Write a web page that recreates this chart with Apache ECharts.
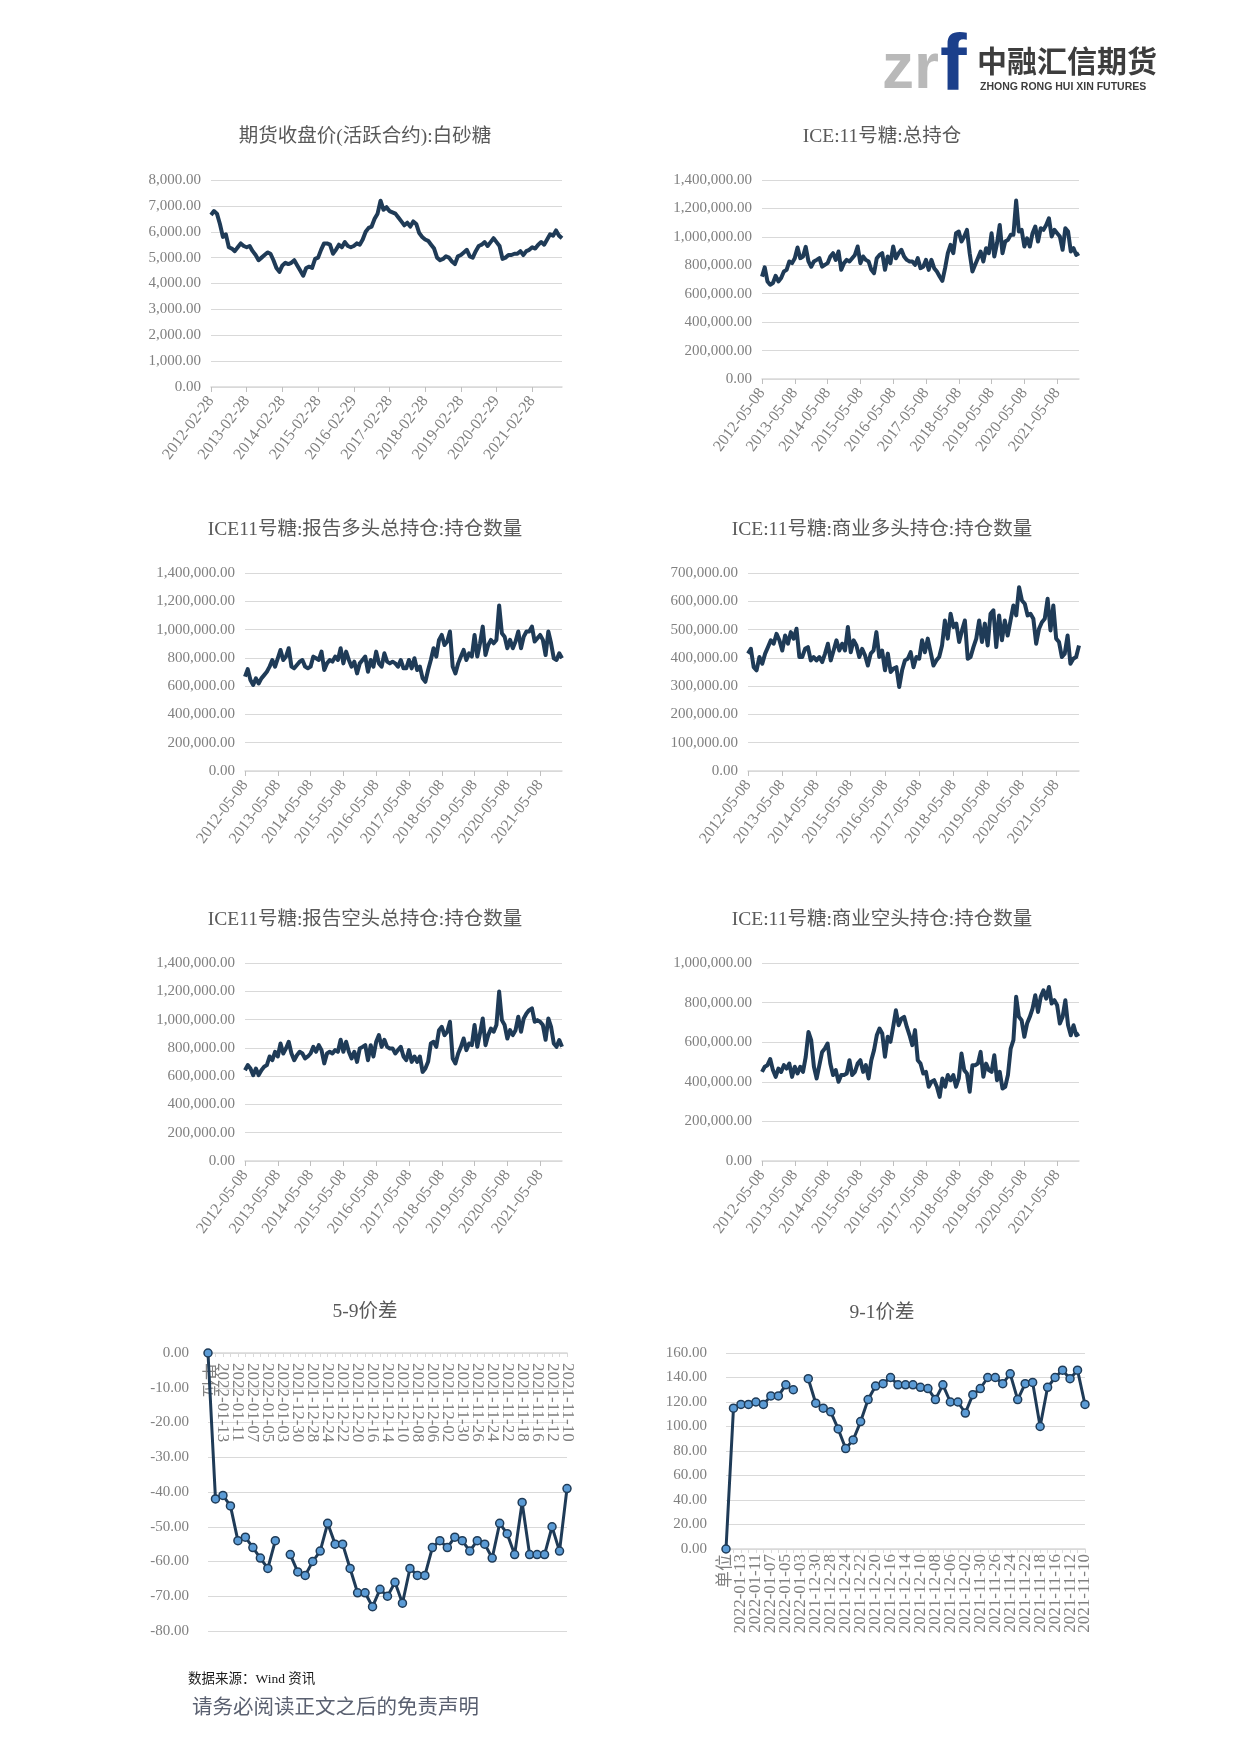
<!DOCTYPE html>
<html>
<head>
<meta charset="utf-8">
<script src="https://cdn.jsdelivr.net/npm/echarts@6/dist/echarts.min.js"></script>
<style>
html,body{margin:0;padding:0;background:#ffffff;}
#page{width:1241px;height:1755px;}
</style>
</head>
<body>
<div id="page"></div>
<script>
// ---------------- DATA ----------------
// Chart 1: 期货收盘价(活跃合约):白砂糖 — monthly, 2012-02 .. 2021-12
const priceTickLabels = ['2012-02-28','2013-02-28','2014-02-28','2015-02-28','2016-02-29','2017-02-28','2018-02-28','2019-02-28','2020-02-29','2021-02-28'];
const sugarClose = [
  6650,6800,6700,6300,5800,5900,5400,5350,5250,5400,5550,5450,
  5400,5450,5250,5100,4900,5000,5100,5200,5150,4900,4600,4450,
  4700,4800,4750,4800,4900,4700,4500,4300,4600,4650,4600,4950,
  5000,5300,5550,5550,5500,5150,5300,5500,5400,5600,5450,5400,
  5450,5550,5500,5700,6000,6150,6200,6500,6700,7200,6850,6950,
  6800,6750,6700,6550,6400,6250,6350,6200,6400,6300,5950,5800,
  5700,5650,5500,5350,5000,4900,4950,5050,5000,4850,4750,5050,
  5100,5200,5300,5050,5000,5250,5450,5500,5600,5450,5600,5750,
  5600,5450,4950,5000,5100,5100,5150,5150,5250,5100,5250,5300,
  5400,5350,5500,5600,5500,5700,5900,5850,6050,5850,5750
];

// ICE charts — monthly, 2012-05 .. 2022-01
const iceTickLabels = ['2012-05-08','2013-05-08','2014-05-08','2015-05-08','2016-05-08','2017-05-08','2018-05-08','2019-05-08','2020-05-08','2021-05-08'];
const iceTotalOI = [
  720e3,785e3,686e3,663e3,675e3,726e3,686e3,710e3,756e3,768e3,827e3,815e3,
  850e3,925e3,850e3,862e3,930e3,827e3,790e3,827e3,838e3,850e3,790e3,803e3,
  815e3,862e3,885e3,838e3,897e3,768e3,815e3,838e3,827e3,850e3,873e3,932e3,
  815e3,862e3,838e3,827e3,768e3,745e3,850e3,873e3,885e3,768e3,862e3,815e3,
  932e3,850e3,885e3,909e3,862e3,838e3,827e3,827e3,803e3,850e3,780e3,790e3,
  838e3,768e3,838e3,780e3,756e3,721e3,690e3,780e3,885e3,944e3,885e3,1026e3,
  1037e3,967e3,1002e3,1049e3,885e3,756e3,803e3,850e3,897e3,827e3,920e3,885e3,
  1026e3,862e3,955e3,1084e3,885e3,967e3,979e3,1014e3,1014e3,1255e3,1037e3,1049e3,
  932e3,990e3,932e3,1026e3,1073e3,967e3,1061e3,1049e3,1084e3,1131e3,1002e3,1049e3,
  1026e3,1002e3,909e3,1061e3,1037e3,897e3,920e3,873e3,885e3
];
const iceReportLong = [
  667e3,720e3,643e3,608e3,655e3,619e3,655e3,678e3,702e3,738e3,785e3,738e3,
  797e3,856e3,785e3,809e3,868e3,738e3,726e3,749e3,773e3,785e3,738e3,726e3,
  738e3,809e3,797e3,785e3,844e3,714e3,761e3,785e3,773e3,809e3,785e3,868e3,
  761e3,844e3,785e3,738e3,773e3,690e3,761e3,785e3,809e3,702e3,785e3,738e3,
  844e3,761e3,738e3,832e3,773e3,761e3,773e3,761e3,738e3,785e3,726e3,726e3,
  785e3,726e3,797e3,714e3,738e3,655e3,631e3,714e3,785e3,868e3,809e3,927e3,
  962e3,891e3,915e3,986e3,738e3,690e3,761e3,809e3,856e3,785e3,832e3,809e3,
  962e3,809e3,903e3,1021e3,820e3,891e3,927e3,903e3,927e3,1170e3,974e3,950e3,
  868e3,927e3,868e3,915e3,986e3,868e3,950e3,986e3,986e3,1021e3,915e3,939e3,
  962e3,927e3,820e3,986e3,903e3,797e3,785e3,832e3,797e3
];
const iceCommLong = [
  415e3,432e3,367e3,356e3,403e3,379e3,415e3,438e3,462e3,450e3,485e3,462e3,
  426e3,479e3,450e3,491e3,468e3,503e3,403e3,403e3,432e3,438e3,391e3,403e3,
  391e3,403e3,385e3,415e3,450e3,391e3,426e3,462e3,426e3,450e3,426e3,509e3,
  420e3,462e3,444e3,403e3,432e3,409e3,373e3,415e3,426e3,491e3,403e3,426e3,
  356e3,415e3,350e3,362e3,367e3,297e3,356e3,391e3,397e3,420e3,367e3,403e3,
  397e3,462e3,420e3,468e3,420e3,373e3,391e3,403e3,444e3,532e3,468e3,556e3,
  509e3,521e3,456e3,497e3,532e3,397e3,403e3,438e3,468e3,532e3,456e3,521e3,
  444e3,556e3,568e3,438e3,550e3,462e3,532e3,479e3,532e3,585e3,550e3,650e3,
  603e3,591e3,550e3,556e3,538e3,450e3,503e3,526e3,538e3,609e3,497e3,585e3,
  468e3,456e3,403e3,415e3,479e3,379e3,397e3,403e3,444e3
];
const iceReportShort = [
  642e3,678e3,654e3,607e3,654e3,607e3,642e3,666e3,678e3,739e3,713e3,772e3,
  739e3,831e3,760e3,796e3,843e3,760e3,713e3,748e3,772e3,760e3,725e3,739e3,
  760e3,807e3,772e3,819e3,784e3,690e3,760e3,772e3,760e3,784e3,772e3,857e3,
  772e3,843e3,772e3,725e3,772e3,701e3,796e3,807e3,819e3,713e3,819e3,739e3,
  843e3,890e3,807e3,857e3,807e3,796e3,796e3,760e3,784e3,807e3,739e3,713e3,
  784e3,701e3,739e3,701e3,739e3,630e3,654e3,701e3,831e3,843e3,807e3,925e3,
  949e3,890e3,914e3,985e3,725e3,690e3,760e3,807e3,866e3,784e3,831e3,819e3,
  961e3,807e3,902e3,1008e3,819e3,890e3,937e3,914e3,961e3,1198e3,996e3,961e3,
  866e3,925e3,890e3,925e3,1020e3,914e3,1008e3,1043e3,1067e3,1079e3,985e3,996e3,
  985e3,961e3,857e3,1008e3,949e3,831e3,807e3,855e3,807e3
];
const iceCommShort = [
  450e3,476e3,484e3,515e3,459e3,425e3,467e3,450e3,484e3,467e3,492e3,425e3,
  476e3,442e3,476e3,450e3,526e3,652e3,610e3,476e3,417e3,484e3,551e3,568e3,
  593e3,492e3,434e3,459e3,400e3,434e3,434e3,442e3,509e3,434e3,450e3,492e3,
  509e3,450e3,484e3,417e3,509e3,560e3,635e3,669e3,644e3,526e3,627e3,602e3,
  677e3,761e3,686e3,719e3,728e3,677e3,635e3,585e3,661e3,509e3,492e3,442e3,
  450e3,375e3,400e3,408e3,375e3,324e3,417e3,375e3,434e3,408e3,434e3,375e3,
  417e3,543e3,459e3,442e3,350e3,484e3,484e3,492e3,551e3,425e3,492e3,459e3,
  450e3,534e3,408e3,450e3,366e3,375e3,434e3,568e3,610e3,829e3,728e3,711e3,
  627e3,694e3,728e3,770e3,837e3,753e3,829e3,862e3,820e3,879e3,795e3,812e3,
  787e3,694e3,728e3,812e3,686e3,635e3,686e3,635e3,644e3
];

// Spread charts — daily categories (descending), first category is the unit cell
const spreadCats = ['单位','2022-01-14','2022-01-13','2022-01-12','2022-01-11','2022-01-10','2022-01-07','2022-01-06','2022-01-05','2022-01-04','2022-01-03',
  '2021-12-31','2021-12-30','2021-12-29','2021-12-28','2021-12-27','2021-12-24','2021-12-23','2021-12-22','2021-12-21','2021-12-20',
  '2021-12-17','2021-12-16','2021-12-15','2021-12-14','2021-12-13','2021-12-10','2021-12-09','2021-12-08','2021-12-07','2021-12-06',
  '2021-12-03','2021-12-02','2021-12-01','2021-11-30','2021-11-29','2021-11-26','2021-11-25','2021-11-24','2021-11-23','2021-11-22',
  '2021-11-19','2021-11-18','2021-11-17','2021-11-16','2021-11-15','2021-11-12','2021-11-11','2021-11-10'];
const spread59 = [0,-42,-41,-44,-54,-53,-56,-59,-62,-54,null,-58,-63,-64,-60,-57,-49,-55,-55,-62,-69,-69,-73,-68,-70,-66,-72,-62,-64,-64,-56,-54,-56,-53,-54,-57,-54,-55,-59,-49,-52,-58,-43,-58,-58,-58,-50,-57,-39];
const spread91 = [0,115,118,118,120,118,125,125,134,130,null,139,119,115,112,98,82,89,104,122,133,135,140,134,134,134,132,131,122,134,120,120,111,126,131,140,140,135,143,122,135,136,100,132,140,146,139,146,118];

// ---------------- BUILD ----------------
function monthlyCats(startY, startM, n, day, tickLabels) {
  const out = [];
  for (let i = 0; i < n; i++) {
    const m0 = startM - 1 + i;
    const y = startY + Math.floor(m0 / 12);
    const m = (m0 % 12) + 1;
    if (i % 12 === 0 && tickLabels[i / 12]) out.push(tickLabels[i / 12]);
    else out.push(y + '-' + String(m).padStart(2, '0') + '-' + day);
  }
  return out;
}
const priceCats = monthlyCats(2012, 2, sugarClose.length, '28', priceTickLabels);
const iceCats = monthlyCats(2012, 5, iceTotalOI.length, '08', iceTickLabels);

const FONT = "'Liberation Serif','Noto Sans CJK SC',serif";
const CJK = "'Noto Sans CJK SC','Liberation Serif',sans-serif";
const LINE = '#1f3b57';
const GRIDC = '#d9d9d9';
const LABC = '#808080';
const fmt = v => Number(v).toLocaleString('en-US', {minimumFractionDigits: 2, maximumFractionDigits: 2});

const panels = [
  {title:'期货收盘价(活跃合约):白砂糖', cx:365, cy:140, left:211, top:180, width:351, height:207, cats:priceCats, data:sugarClose, min:0, max:8000, step:1000, kind:'ts'},
  {title:'ICE:11号糖:总持仓', cx:882, cy:140, left:762, top:180, width:317, height:199, cats:iceCats, data:iceTotalOI, min:0, max:1400000, step:200000, kind:'ts'},
  {title:'ICE11号糖:报告多头总持仓:持仓数量', cx:365, cy:533, left:245, top:573, width:317, height:198, cats:iceCats, data:iceReportLong, min:0, max:1400000, step:200000, kind:'ts'},
  {title:'ICE:11号糖:商业多头持仓:持仓数量', cx:882, cy:533, left:748, top:573, width:331, height:198, cats:iceCats, data:iceCommLong, min:0, max:700000, step:100000, kind:'ts'},
  {title:'ICE11号糖:报告空头总持仓:持仓数量', cx:365, cy:923, left:245, top:963, width:317, height:198, cats:iceCats, data:iceReportShort, min:0, max:1400000, step:200000, kind:'ts'},
  {title:'ICE:11号糖:商业空头持仓:持仓数量', cx:882, cy:923, left:762, top:963, width:317, height:198, cats:iceCats, data:iceCommShort, min:0, max:1000000, step:200000, kind:'ts'},
  {title:'5-9价差', cx:365, cy:1315, left:208, top:1353, width:359, height:278, cats:spreadCats, data:spread59, min:-80, max:0, step:10, kind:'sp', axisTop:true},
  {title:'9-1价差', cx:882, cy:1316, left:726, top:1353, width:359, height:196, cats:spreadCats, data:spread91, min:0, max:160, step:20, kind:'sp', axisTop:false}
];

const option = {
  animation: false,
  backgroundColor: '#ffffff',
  textStyle: {fontFamily: FONT},
  title: [], grid: [], xAxis: [], yAxis: [], series: [],
  graphic: [
    {type:'text', x:882, y:70, style:{text:'zr', fontFamily:'Liberation Sans', fontWeight:'bold', fontSize:64, fill:'#b9b9b9', verticalAlign:'middle', align:'left'}},
    {type:'text', x:940, y:68, style:{text:'f', fontFamily:'Liberation Sans', fontWeight:'bold', fontSize:80, fill:'#1b3f8b', verticalAlign:'middle', align:'left'}},
    {type:'text', x:977, y:61, style:{text:'中融汇信期货', fontFamily:CJK, fontWeight:'bold', fontSize:30, fill:'#3d3d3d', verticalAlign:'middle', align:'left'}},
    {type:'text', x:980, y:87, style:{text:'ZHONG RONG HUI XIN FUTURES', fontFamily:'Liberation Sans', fontWeight:'bold', fontSize:10.5, fill:'#3d3d3d', verticalAlign:'middle', align:'left'}},
    {type:'text', x:188, y:1679, style:{text:'数据来源：Wind 资讯', fontFamily:FONT, fontSize:13.5, fill:'#1a1a1a', verticalAlign:'middle', align:'left'}},
    {type:'text', x:192, y:1706, style:{text:'请务必阅读正文之后的免责声明', fontFamily:CJK, fontSize:20.5, fill:'#5a6070', verticalAlign:'middle', align:'left'}}
  ]
};

panels.forEach((p, i) => {
  option.title.push({
    text: p.title, left: p.cx, top: p.cy - 13, textAlign: 'center', padding: 0,
    textStyle: {fontFamily: FONT, fontSize: 19.5, fontWeight: 'normal', color: '#595959'}
  });
  option.grid.push({left: p.left, top: p.top, width: p.width, height: p.height, containLabel: false});
  const ts = p.kind === 'ts';
  const top = !!p.axisTop;
  option.xAxis.push({
    type: 'category', gridIndex: i, data: p.cats, boundaryGap: false,
    position: top ? 'top' : 'bottom',
    axisLine: {show: true, onZero: false, lineStyle: {color: GRIDC, width: 1.5}},
    axisTick: ts ? {show: true, interval: 11, length: 5, lineStyle: {color: '#bfbfbf'}}
                 : {show: true, interval: 0, length: 4, inside: top, lineStyle: {color: GRIDC}},
    axisLabel: ts ? {interval: 11, rotate: 53, color: LABC, fontFamily: FONT, fontSize: 16, margin: 11}
                  : {interval: 0, rotate: 90, inside: top, color: LABC, fontFamily: FONT, fontSize: 17,
                     margin: top ? 10 : 5, formatter: (v, idx) => (idx % 2 === 0 ? v : '')},
    splitLine: {show: false}
  });
  option.yAxis.push({
    type: 'value', gridIndex: i, min: p.min, max: p.max, interval: p.step,
    axisLine: {show: false}, axisTick: {show: false},
    axisLabel: {formatter: fmt, color: LABC, fontFamily: FONT, fontSize: 15, margin: ts ? 10 : 19},
    splitLine: {show: true, lineStyle: {color: GRIDC, width: 1.2}}
  });
  if (ts) {
    option.series.push({
      type: 'line', xAxisIndex: i, yAxisIndex: i, data: p.data, showSymbol: false, symbol: 'none',
      lineStyle: {color: LINE, width: 4, join: 'round'}, silent: true
    });
  } else {
    option.series.push({
      type: 'line', xAxisIndex: i, yAxisIndex: i, data: p.data, connectNulls: false,
      symbol: 'circle', symbolSize: 8, showSymbol: true, showAllSymbol: true,
      itemStyle: {color: '#5b9bd5', borderColor: LINE, borderWidth: 1.5},
      lineStyle: {color: LINE, width: 3}, silent: true, z: 3
    });
  }
});

const chart = echarts.init(document.getElementById('page'), null, {renderer: 'canvas', width: 1241, height: 1755});
chart.setOption(option);
</script>
</body>
</html>
